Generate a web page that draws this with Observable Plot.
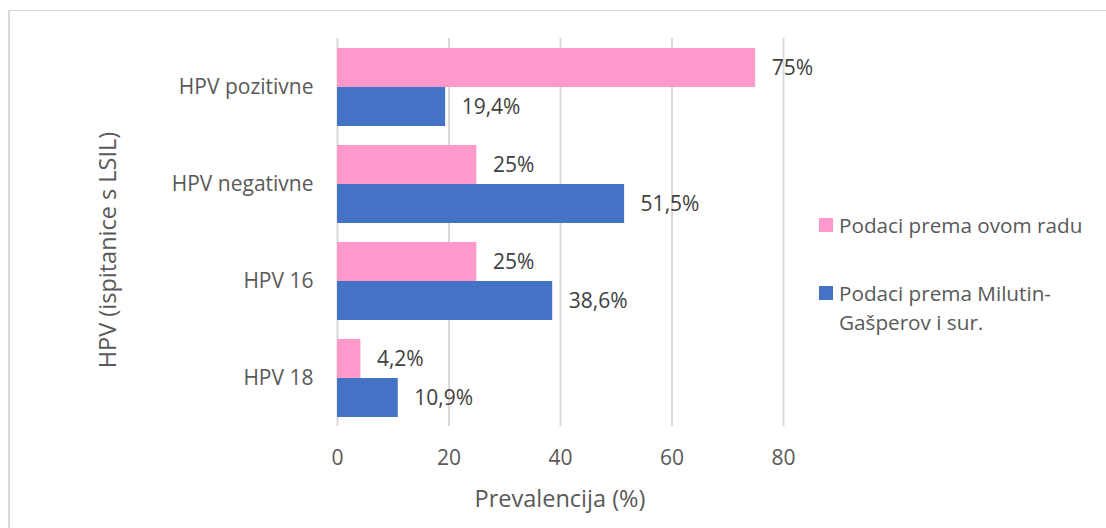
<!DOCTYPE html>
<html>
<head>
<meta charset="utf-8">
<script src="https://cdn.jsdelivr.net/npm/d3@7"></script>
<script src="https://cdn.jsdelivr.net/npm/@observablehq/plot@0.6"></script>
<style>
  html, body { margin: 0; padding: 0; background: #fff; }
  body { width: 1106px; height: 528px; position: relative; overflow: hidden; font-family: "Open Sans", sans-serif; }
  #frame { position: absolute; left: 8px; top: 10px; width: 1200px; height: 600px; border-top: 1.5px solid #d9d9d9; border-left: 2px solid #d9d9d9; }
  #chart { position: absolute; left: 0; top: 0; }
  .ytitle { position: absolute; left: 107px; top: 250px; transform: translate(-50%, -50%) rotate(-90deg); white-space: nowrap; font-size: 23.5px; color: #595959; }
  .xtitle { position: absolute; left: 560px; top: 498px; transform: translate(-50%, -50%); white-space: nowrap; font-size: 23.5px; color: #595959; }
  .legend { position: absolute; left: 819px; font-size: 20.7px; color: #595959; line-height: 29px; }
  .legend .sw { position: absolute; left: 0; width: 14px; height: 14px; }
  .legend .lbl { position: absolute; left: 20px; white-space: nowrap; }
</style>
</head>
<body>
<div id="frame"></div>
<div id="chart"></div>
<div class="ytitle">HPV (ispitanice s LSIL)</div>
<div class="xtitle">Prevalencija (%)</div>
<div id="legend"></div>
<script>
const categories = ["HPV pozitivne", "HPV negativne", "HPV 16", "HPV 18"];
const seriesNames = ["Podaci prema ovom radu", "Podaci prema Milutin-Gašperov i sur."];
const ovomRadu = [75, 25, 25, 4.2];
const milutinGasperov = [19.4, 51.5, 38.6, 10.9];
const xTicks = [0, 20, 40, 60, 80];
const colors = ["#FF99CC", "#4472C4"];

const data = categories.flatMap((c, i) => [
  {cat: c, series: seriesNames[0], value: ovomRadu[i]},
  {cat: c, series: seriesNames[1], value: milutinGasperov[i]}
]);
const fmt = v => String(v).replace(".", ",") + "%";

const chart = Plot.plot({
  width: 1106,
  height: 528,
  marginLeft: 337,
  marginRight: 323,
  marginTop: 37,
  marginBottom: 101,
  style: {fontFamily: "Open Sans, sans-serif", fontSize: "21px", background: "transparent"},
  x: {domain: [0, 80], ticks: xTicks},
  fy: {domain: categories, padding: 0},
  y: {domain: seriesNames, paddingInner: 0, paddingOuter: 0.219, axis: null},
  color: {domain: seriesNames, range: colors},
  marks: [
    Plot.gridX(xTicks, {stroke: "#d9d9d9", strokeOpacity: 1, strokeWidth: 2}),
    Plot.barX(data, {fy: "cat", y: "series", x: "value", fill: "series"}),
    Plot.text(data, {fy: "cat", y: "series", x: "value", text: d => fmt(d.value), textAnchor: "start", dx: 16, fill: "#404040", fontSize: 21}),
    Plot.axisX(xTicks, {tickSize: 0, tickPadding: 24, fontSize: 21, color: "#595959", label: null, tickFormat: d => String(d)}),
    Plot.axisFy({anchor: "left", tickSize: 0, tickPadding: 24, fontSize: 21, color: "#595959", label: null})
  ]
});
document.getElementById("chart").appendChild(chart);

const legend = document.getElementById("legend");
const legendTops = [218, 286];
const legendLabels = [["Podaci prema ovom radu"], ["Podaci prema Milutin-", "Gašperov i sur."]];
seriesNames.forEach((s, i) => {
  const item = document.createElement("div");
  item.className = "legend";
  item.style.top = legendTops[i] + "px";
  const sw = document.createElement("div");
  sw.className = "sw";
  sw.style.background = colors[i];
  sw.style.top = "0px";
  item.appendChild(sw);
  const lbl = document.createElement("div");
  lbl.className = "lbl";
  lbl.style.top = "-7px";
  lbl.innerHTML = legendLabels[i].join("<br>");
  item.appendChild(lbl);
  legend.appendChild(item);
});
</script>
</body>
</html>
